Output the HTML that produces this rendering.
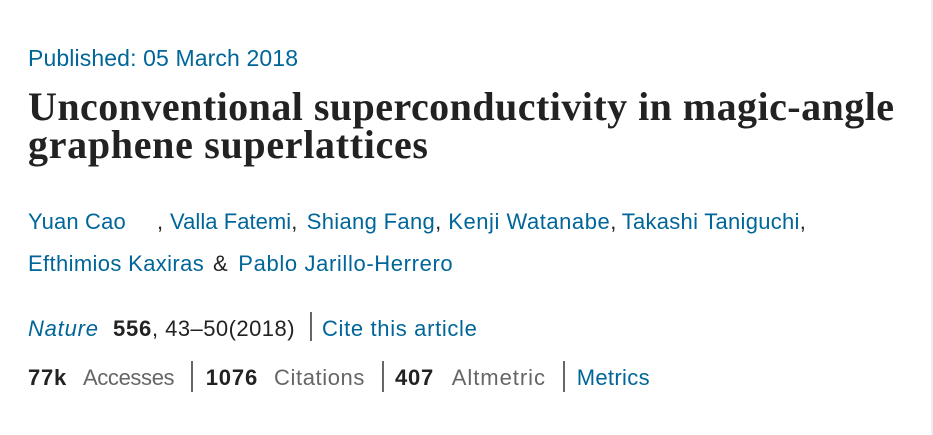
<!DOCTYPE html>
<html>
<head>
<meta charset="utf-8">
<style>
  html,body{margin:0;padding:0;background:#fff;}
  body{width:933px;height:435px;position:relative;overflow:hidden;}
  .s{position:absolute;white-space:nowrap;font-family:"Liberation Sans",Arial,sans-serif;font-size:22px;line-height:22px;color:#222;}
  .b{color:#069;}
  .g{color:#666;}
  .d{color:#222;letter-spacing:0;}
  .k{font-weight:bold;color:#222;}
  .t{position:absolute;white-space:nowrap;font-family:"Liberation Serif","Times New Roman",serif;font-weight:bold;font-size:40px;line-height:40px;color:#222;}
  .sep{position:absolute;width:2px;background:#666;}
  .edge{position:absolute;left:931px;top:0;width:2px;height:435px;background:#eeeeee;}
</style>
</head>
<body>
  <div class="s b" style="left:28px;top:47px;font-size:23px;line-height:23px;letter-spacing:0.12px;">Published: 05 March 2018</div>

  <div class="t" style="left:28px;top:86.5px;letter-spacing:0.46px;">Unconventional superconductivity in magic-angle</div>
  <div class="t" style="left:28px;top:124.5px;letter-spacing:0.69px;">graphene superlattices</div>

  <!-- authors line 1 -->
  <div class="s b" style="left:28px;top:211px;letter-spacing:0.15px;">Yuan Cao</div>
  <div class="s" style="left:157px;top:211px;">,</div>
  <div class="s b" style="left:170px;top:211px;letter-spacing:0.05px;">Valla Fatemi<span class="d">,</span></div>
  <div class="s b" style="left:306.7px;top:211px;letter-spacing:0.33px;">Shiang Fang<span class="d">,</span></div>
  <div class="s b" style="left:448.3px;top:211px;letter-spacing:0.53px;">Kenji Watanabe<span class="d">,</span></div>
  <div class="s b" style="left:621.7px;top:211px;letter-spacing:0.28px;">Takashi Taniguchi<span class="d">,</span></div>

  <!-- authors line 2 -->
  <div class="s b" style="left:28px;top:252.6px;letter-spacing:0.36px;">Efthimios Kaxiras</div>
  <div class="s" style="left:213px;top:252.6px;">&amp;</div>
  <div class="s b" style="left:238.3px;top:252.6px;letter-spacing:0.63px;">Pablo Jarillo-Herrero</div>

  <!-- citation line -->
  <div class="s b" style="left:28px;top:318px;font-style:italic;letter-spacing:0.78px;">Nature</div>
  <div class="s k" style="left:113px;top:318px;letter-spacing:0.77px;">556</div>
  <div class="s" style="left:152px;top:318px;letter-spacing:0.46px;">, 43–50(2018)</div>
  <div class="sep" style="left:309.5px;top:312px;height:29px;"></div>
  <div class="s b" style="left:322px;top:318px;letter-spacing:0.66px;">Cite this article</div>

  <!-- metrics line -->
  <div class="s k" style="left:28px;top:367.4px;letter-spacing:0.77px;">77k</div>
  <div class="s g" style="left:83px;top:367.4px;letter-spacing:-0.37px;">Accesses</div>
  <div class="sep" style="left:190.5px;top:361px;height:31px;"></div>
  <div class="s k" style="left:205.7px;top:367.4px;letter-spacing:0.85px;">1076</div>
  <div class="s g" style="left:274px;top:367.4px;letter-spacing:0.6px;">Citations</div>
  <div class="sep" style="left:381.5px;top:361px;height:31px;"></div>
  <div class="s k" style="left:395px;top:367.4px;letter-spacing:0.77px;">407</div>
  <div class="s g" style="left:451.7px;top:367.4px;letter-spacing:0.97px;">Altmetric</div>
  <div class="sep" style="left:562.5px;top:361px;height:31px;"></div>
  <div class="s b" style="left:576.7px;top:367.4px;letter-spacing:0.34px;">Metrics</div>

  <div class="edge"></div>
</body>
</html>
